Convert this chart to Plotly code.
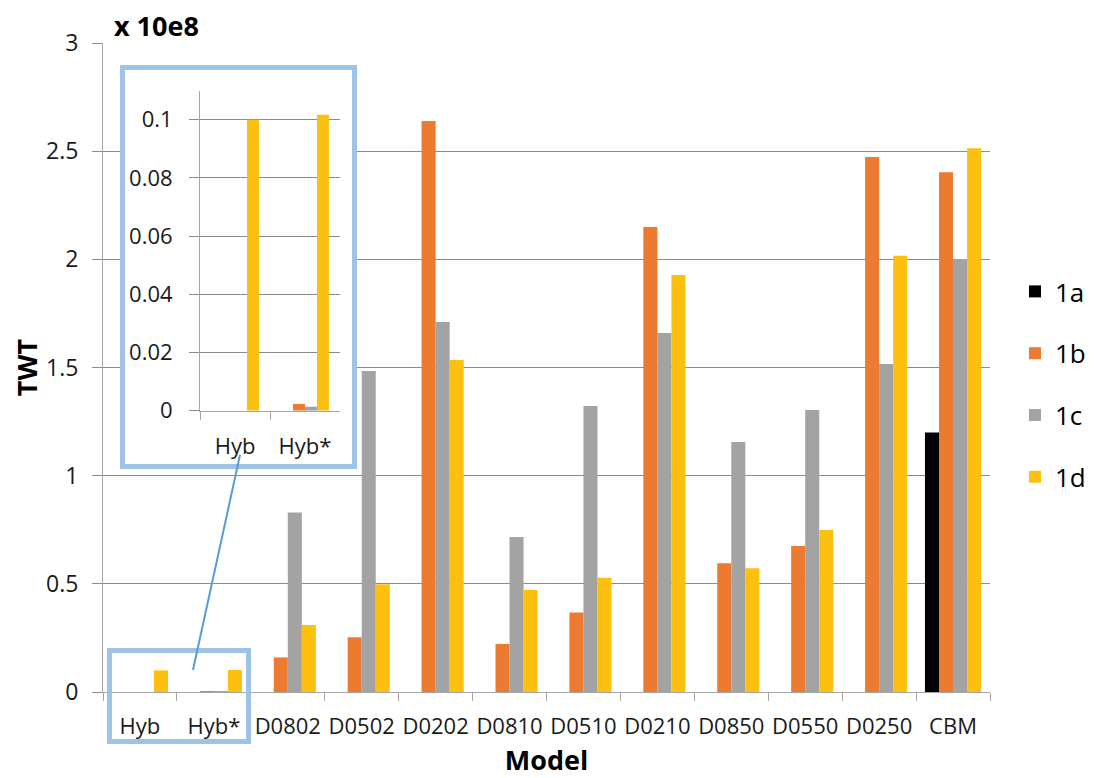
import plotly.graph_objects as go

# ---------------- data ----------------
categories = ["Hyb", "Hyb*", "D0802", "D0502", "D0202", "D0810", "D0510",
              "D0210", "D0850", "D0550", "D0250", "CBM"]
series_names = ["1a", "1b", "1c", "1d"]
s1a = [None, None, None, None, None, None, None, None, None, None, None, 1.20]
s1b = [0, 0.0023, 0.16, 0.253, 2.64, 0.222, 0.367, 2.15, 0.595, 0.675, 2.473, 2.403]
s1c = [0, 0.0014, 0.83, 1.484, 1.71, 0.717, 1.322, 1.66, 1.156, 1.304, 1.516, 2.002]
s1d = [0.100, 0.1017, 0.31, 0.498, 1.535, 0.472, 0.528, 1.928, 0.572, 0.749, 2.016, 2.514]
inset_categories = categories[:2]
y_ticks_main = [0, 0.5, 1, 1.5, 2, 2.5, 3]
y_ticks_inset = [0, 0.02, 0.04, 0.06, 0.08, 0.1]

colors = ["#000000", "#EC7A30", "#A3A3A3", "#FCC010"]
all_series = [s1a, s1b, s1c, s1d]

FONT = "Open Sans"
fig = go.Figure()

# main bars
bw = 0.19
for k, (name, vals) in enumerate(zip(series_names, all_series)):
    fig.add_trace(go.Bar(
        x=categories, y=vals, name=name, marker_color=colors[k],
        marker_line_width=0, width=bw, offset=-2 * bw + k * bw,
        legendgroup=name, xaxis="x", yaxis="y"))

# blank subplot used as the white background of the inset box
fig.add_trace(go.Scatter(x=[None], y=[None], xaxis="x2", yaxis="y2",
                         showlegend=False, hoverinfo="skip"))

# inset bars
ibw = 0.171
for k, (name, vals) in enumerate(zip(series_names, all_series)):
    fig.add_trace(go.Bar(
        x=inset_categories, y=vals[:2], name=name, marker_color=colors[k],
        marker_line_width=0, width=ibw, offset=-2 * ibw + k * ibw,
        legendgroup=name, showlegend=False, xaxis="x3", yaxis="y3"))

# page body margin of the html page (8 px) is compensated here
OFF = 8
W, H = 1094 - OFF, 778 - OFF
PL, PR, PT, PB = 103, 990, 43, 692          # plot area in page pixels
L, R, T, B = PL - OFF, W - (PR - OFF), PT - OFF, H - (PB - OFF)
pw, ph = W - L - R, H - T - B


def px(x):
    return (x - PL) / pw


def py(y):
    return (PB - y) / ph


grid = "#8C8C8C"
axl = "#A6A6A6"
title_font = dict(size=27, color="#000", family=FONT, weight="bold")

fig.update_layout(
    width=W, height=H,
    margin=dict(l=L, r=R, t=T, b=B, autoexpand=False),
    paper_bgcolor="white", plot_bgcolor="#ffffff",
    barmode="overlay",
    font=dict(family=FONT, size=22, color="#1a1a1a"),
    title=dict(text="x 10e8", font=title_font, xref="paper", x=px(114),
               xanchor="left", yref="container", y=1 - (27 - OFF) / H,
               yanchor="middle"),
    showlegend=True,
    legend=dict(x=px(1015), y=py(268), xanchor="left", yanchor="top",
                font=dict(size=26, color="#000"), tracegroupgap=25,
                bgcolor="rgba(0,0,0,0)"),
    xaxis=dict(domain=[0, 1], anchor="y", type="category",
               range=[-0.5, 11.5], showline=True, linecolor=axl,
               ticks="outside", tickson="boundaries", ticklen=8,
               tickcolor=axl, showgrid=False, ticklabelstandoff=15,
               tickangle=0, tickfont=dict(size=22),
               title=dict(text="Model", font=title_font)),
    yaxis=dict(domain=[0, 1], anchor="x", range=[0, 3], tickvals=y_ticks_main,
               showline=True, linecolor=axl, ticks="outside", ticklen=10,
               tickcolor=grid, gridcolor=grid, gridwidth=1, zeroline=False,
               ticklabelstandoff=9, tickfont=dict(size=23),
               title=dict(text="TWT", font=title_font)),
    xaxis2=dict(domain=[px(122.5), px(354.5)], anchor="y2", visible=False,
                range=[0, 1], fixedrange=True),
    yaxis2=dict(domain=[py(466.5), py(67.5)], anchor="x2", visible=False,
                range=[0, 1], fixedrange=True),
    xaxis3=dict(domain=[px(200), px(340)], anchor="y3", type="category",
                range=[-0.5, 1.5], showline=True, linecolor=axl,
                ticks="outside", tickson="boundaries", ticklen=8,
                tickcolor=axl, showgrid=False, ticklabelstandoff=16,
                tickangle=0, tickfont=dict(size=22)),
    yaxis3=dict(domain=[py(410.7), py(90.7)], anchor="x3", range=[0, 0.11],
                tickvals=y_ticks_inset, showline=True, linecolor=axl,
                ticks="outside", ticklen=10, tickcolor=grid, gridcolor=grid,
                zeroline=False, ticklabelstandoff=12, tickfont=dict(size=22)),
)

box_col = "#9DC3E6"
fig.add_shape(type="rect", xref="paper", yref="paper",
              x0=px(122.5), x1=px(354.5), y0=py(466.5), y1=py(67.5),
              line=dict(color=box_col, width=5), fillcolor="rgba(0,0,0,0)",
              layer="above")
fig.add_shape(type="rect", xref="paper", yref="paper",
              x0=px(109.5), x1=px(248.5), y0=py(741.5), y1=py(650.5),
              line=dict(color=box_col, width=5), fillcolor="rgba(0,0,0,0)",
              layer="above")
fig.add_shape(type="line", xref="paper", yref="paper",
              x0=px(240), y0=py(455), x1=px(193), y1=py(670),
              line=dict(color="#5B9BD5", width=2), layer="above")

fig.write_html("out.html")
